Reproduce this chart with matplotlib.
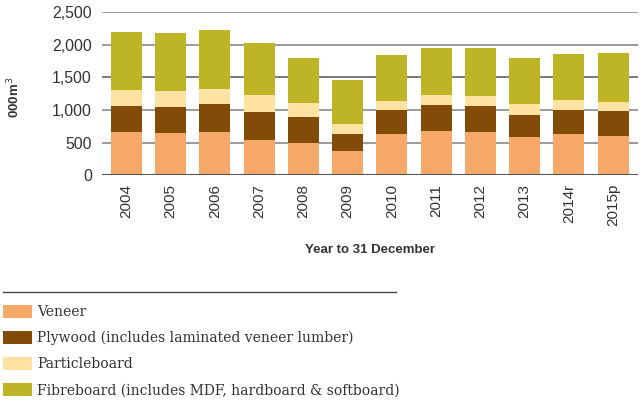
import matplotlib
matplotlib.use("Agg")
import matplotlib.pyplot as plt
import numpy as np
from matplotlib.patches import Patch

years = ['2004', '2005', '2006', '2007', '2008', '2009', '2010', '2011', '2012', '2013', '2014r', '2015p']
veneer = [660, 650, 665, 540, 500, 377, 633, 680, 660, 592, 633, 607]
plywood = [403, 402, 424, 431, 399, 256, 369, 396, 398, 333, 369, 379]
particleboard = [245, 241, 235, 258, 210, 154, 142, 154, 157, 168, 153, 138]
fibreboard = [890, 890, 905, 789, 690, 675, 696, 722, 737, 706, 705, 752]

series = [
    ('Veneer', veneer, '#F6A868'),
    ('Plywood (includes laminated veneer lumber)', plywood, '#824C08'),
    ('Particleboard', particleboard, '#FDE2A2'),
    ('Fibreboard (includes MDF, hardboard & softboard)', fibreboard, '#BDB526'),
]

sans = 'Liberation Sans'

fig = plt.figure(figsize=(6.41, 4.05), dpi=100)
ax = fig.add_axes([101.7 / 641, 1 - 175.3 / 405, (638 - 101.7) / 641, (175.3 - 12) / 405])

x = np.arange(len(years))
bottom = np.zeros(len(years))
for name, vals, col in series:
    ax.bar(x, vals, 0.7, bottom=bottom, color=col, zorder=3)
    bottom += np.array(vals)

ax.set_xlim(-0.56, len(years) - 0.44)
ax.set_ylim(0, 2500)
ax.set_yticks(range(0, 2501, 500))
ax.set_yticklabels(['{:,}'.format(v) for v in range(0, 2501, 500)], family=sans)
ax.yaxis.grid(True, color='#8a8a8a', lw=1.2, zorder=0)
ax.axhline(1500, color='#222222', lw=1.2, zorder=1)
for s in ax.spines.values():
    s.set_visible(False)
ax.axhline(0, color='#555555', lw=1.5, zorder=4)
ax.tick_params(axis='y', length=0, pad=7, labelsize=11.4, labelcolor='#333333')
ax.set_xticks(x)
ax.set_xticklabels(years, rotation=90, family=sans)
ax.tick_params(axis='x', length=0, pad=6, labelsize=11, labelcolor='#333333')

fig.text(14 / 641, 1 - 97 / 405, '000m$^3$', rotation=90, ha='center', va='center',
         fontsize=9.5, fontweight='bold', color='#333333', family=sans)
fig.text(370 / 641, 1 - 250 / 405, 'Year to 31 December', ha='center', va='center',
         fontsize=9.5, fontweight='bold', color='#333333', family=sans)

# legend
fig.add_artist(plt.Line2D([3 / 641, 396 / 641], [1 - 292 / 405, 1 - 292 / 405], color='#444444', lw=1))
handles = [Patch(facecolor=col, label=name) for name, vals, col in series]
fig.legend(handles=handles, loc='upper left', bbox_to_anchor=(3 / 641, 1 - 304.5 / 405),
           frameon=False, prop={'family': 'DejaVu Serif', 'size': 10},
           handlelength=2.1, handleheight=1.1, handletextpad=0.37, labelspacing=0.85,
           borderaxespad=0, borderpad=0, labelcolor='#333333')

fig.savefig('out.png', dpi=100)
